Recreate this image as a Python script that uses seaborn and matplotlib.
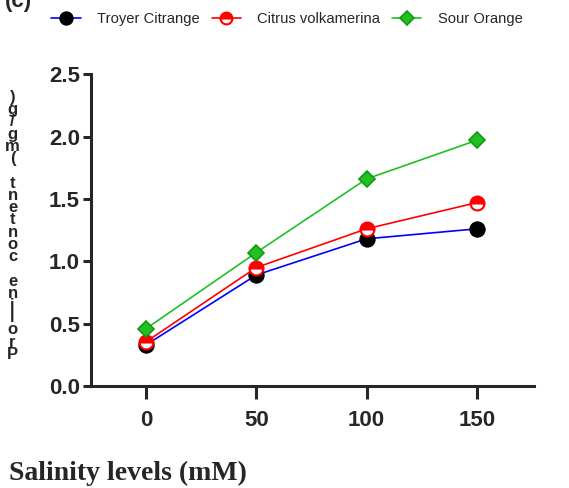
import pandas as pd
import seaborn as sns
from matplotlib import pyplot as plt
from matplotlib.lines import Line2D

# salinity levels (mM) and proline content per rootstock
salinity = [0, 50, 100, 150]
troyer = [0.33, 0.89, 1.18, 1.26]
volkamerina = [0.355, 0.95, 1.26, 1.47]
sour_orange = [0.46, 1.07, 1.66, 1.97]
names = ["Troyer Citrange", "Citrus volkamerina", "Sour Orange"]
ylabel = "Proline content (mg/g)"

sns.set_style("ticks")
plt.rcParams['font.family'] = ['Liberation Sans', 'DejaVu Sans']

df = pd.DataFrame({"salinity": salinity * 3,
                   "value": troyer + volkamerina + sour_orange,
                   "rootstock": [n for n in names for _ in salinity]})

fig = plt.figure(figsize=(5.69, 4.88), dpi=100)
ax = fig.add_axes([0.160, 0.209, 0.7785, 0.639])

styles = {
    "Troyer Citrange": dict(color="#0000ff", marker="o", markersize=11,
                            markerfacecolor="black", markeredgecolor="black"),
    "Citrus volkamerina": dict(color="#ff0000", marker="o", markersize=10,
                               markerfacecolor="#ff0000", markeredgecolor="#ff0000",
                               fillstyle="top", markerfacecoloralt="white",
                               markeredgewidth=1.5),
    "Sour Orange": dict(color="#22c022", marker="D", markersize=8,
                        markerfacecolor="#22c022", markeredgecolor="#119911",
                        markeredgewidth=1.2),
}

handles = []
for name in names:
    sub = df[df["rootstock"] == name]
    st = styles[name]
    sns.lineplot(data=sub, x="salinity", y="value", ax=ax, linewidth=1.2,
                 legend=False, zorder=3, clip_on=False, **st)
    leg_st = dict(st)
    leg_st["markersize"] = st["markersize"] * 0.85
    handles.append(Line2D([], [], linewidth=1.2, label=name, **leg_st))

ax.set_xlim(-25, 176)
ax.set_ylim(0, 2.5)
ax.set_xticks(salinity)
ax.set_yticks([0.0, 0.5, 1.0, 1.5, 2.0, 2.5])
ax.set_yticklabels(["0.0", "0.5", "1.0", "1.5", "2.0", "2.5"])
ax.set_xlabel("")
ax.set_ylabel("")
for lab in ax.get_xticklabels() + ax.get_yticklabels():
    lab.set_fontweight("bold")
    lab.set_fontsize(16)
ax.tick_params(axis="x", length=9, width=2.2, direction="out", pad=8)
ax.tick_params(axis="y", length=6, width=2.2, direction="out", pad=2)
for s in ["left", "bottom"]:
    ax.spines[s].set_linewidth(2.2)
sns.despine(ax=ax)

fig.legend(handles=handles, loc="center left", bbox_to_anchor=(0.08, 0.961),
           ncol=3, frameon=False, fontsize=10.6, handlelength=2.0,
           handletextpad=1.1, columnspacing=0.8, borderaxespad=0.0)

fig.text(0.008, 0.997, "(c)", fontsize=16, fontweight="bold", va="center", ha="left")

# vertical stacked y label, characters read bottom to top
fig.text(0.022, 0.537, "\n".join(reversed(ylabel)), fontsize=12, fontweight="bold",
         ha="center", va="center", linespacing=0.77)

fig.text(0.016, 0.029, "Salinity levels (mM)", fontsize=20, fontweight="bold",
         family=["Liberation Serif"], ha="left", va="center")

fig.savefig("out.png", dpi=100)
